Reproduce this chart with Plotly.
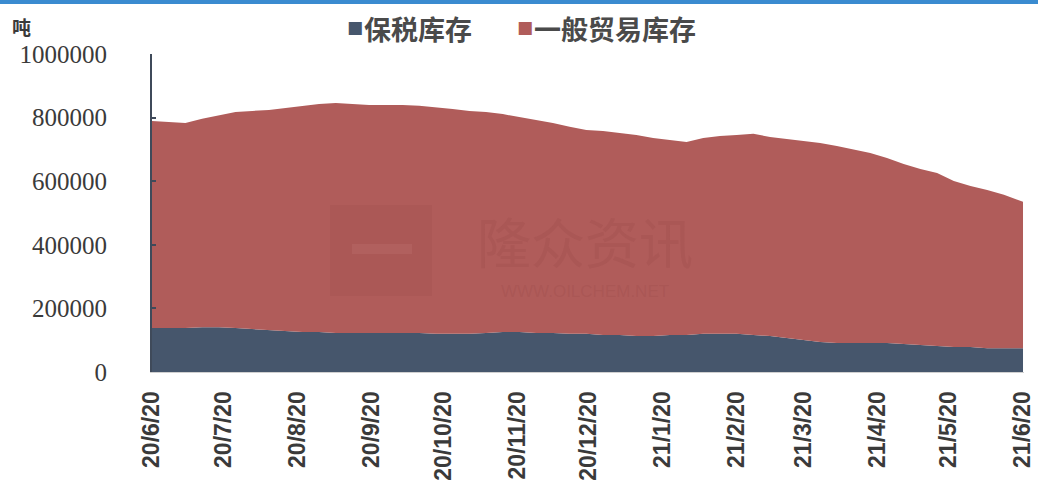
import pandas as pd
import plotly.graph_objects as go

# Weekly stock levels, tonnes
dates = list(pd.date_range("2020-06-20", periods=52, freq="7D").strftime("%Y-%m-%d")) + ["2021-06-20"]

bonded = [138000, 138000, 138000, 141000, 141000, 138000, 135000, 132000, 129000, 126000,
          126000, 123000, 123000, 123000, 123000, 123000, 123000, 120000, 120000, 120000,
          123000, 126000, 126000, 123000, 123000, 120000, 120000, 116000, 116000, 113000,
          113000, 116000, 116000, 120000, 120000, 120000, 116000, 113000, 107000, 101000,
          94000, 91000, 91000, 91000, 91000, 88000, 85000, 82000, 79000, 79000,
          75000, 75000, 75000]

general = [651000, 648000, 645000, 655000, 667000, 680000, 686000, 692000, 701000, 711000,
           717000, 723000, 720000, 717000, 717000, 717000, 714000, 713000, 707000, 701000,
           695000, 685000, 676000, 670000, 660000, 651000, 641000, 642000, 636000, 632000,
           623000, 614000, 607000, 616000, 622000, 625000, 633000, 626000, 626000, 625000,
           626000, 620000, 610000, 598000, 582000, 566000, 553000, 544000, 522000, 506000,
           497000, 482000, 460000]

tick_dates = ["2020-06-20", "2020-07-20", "2020-08-20", "2020-09-20", "2020-10-20",
              "2020-11-20", "2020-12-20", "2021-01-20", "2021-02-20", "2021-03-20",
              "2021-04-20", "2021-05-20", "2021-06-20"]
tick_labels = ["20/6/20", "20/7/20", "20/8/20", "20/9/20", "20/10/20", "20/11/20",
               "20/12/20", "21/1/20", "21/2/20", "21/3/20", "21/4/20", "21/5/20", "21/6/20"]

y_ticks = [0, 200000, 400000, 600000, 800000, 1000000]

series_names = ["保税库存", "一般贸易库存"]
NAVY = "#46566c"
RED = "#b05c5a"
TEXT = "#3a3a3a"

L, R, T, B = 152, 14, 54, 130
PW = 1038 - L - R
PH = 502 - T - B


def px_x(x):
    return (x - L) / PW


def px_y(y):
    return (502 - B - y) / PH


fig = go.Figure()
fig.add_trace(go.Scatter(x=dates, y=bonded, name=series_names[0], stackgroup="s",
                         mode="lines", line=dict(width=0, color=NAVY), fillcolor=NAVY))
fig.add_trace(go.Scatter(x=dates, y=general, name=series_names[1], stackgroup="s",
                         mode="lines", line=dict(width=0, color=RED), fillcolor=RED))

fig.update_layout(
    width=1038, height=502,
    margin=dict(l=L, r=R, t=T, b=B),
    paper_bgcolor="white", plot_bgcolor="white",
    showlegend=False,
)

fig.update_xaxes(
    type="date", range=["2020-06-20", "2021-06-20 10:00"],
    tickvals=tick_dates, ticktext=tick_labels, tickangle=-90,
    tickfont=dict(family="Liberation Sans", size=23, color=TEXT, weight="bold"),
    showgrid=False, zeroline=False, showline=True, linecolor="#d0d0d0", linewidth=1,
    ticks="", ticklabelstandoff=9, ticklabeloverflow="allow", automargin=False,
)
fig.update_yaxes(
    range=[0, 1000000], tickvals=y_ticks, ticktext=[str(v) for v in y_ticks],
    tickfont=dict(family="Liberation Serif", size=25, color=TEXT),
    showgrid=False, zeroline=False, showline=True, linecolor="#3f4a5a", linewidth=2,
    ticks="inside", ticklen=4, tickcolor="#3f4a5a", tickwidth=2,
    ticklabelstandoff=38, automargin=False,
)

# top accent bar
fig.add_shape(type="rect", xref="paper", yref="paper",
              x0=-0.3, x1=1.1, y0=px_y(4), y1=px_y(-2),
              fillcolor="#3a8bd0", line=dict(width=0), layer="above")

# watermark
fig.add_shape(type="rect", xref="paper", yref="paper",
              x0=px_x(330), x1=px_x(432), y0=px_y(296), y1=px_y(205),
              fillcolor="rgba(150,70,70,0.16)", line=dict(width=0), layer="above")
fig.add_shape(type="rect", xref="paper", yref="paper",
              x0=px_x(352), x1=px_x(412), y0=px_y(254), y1=px_y(244),
              fillcolor="rgba(220,150,150,0.14)", line=dict(width=0), layer="above")
fig.add_annotation(text="隆众资讯", xref="paper", yref="paper",
                   x=px_x(585), y=px_y(240), yanchor="middle", showarrow=False,
                   font=dict(family="Noto Sans CJK SC", size=54, color="rgba(150,70,70,0.24)"))
fig.add_annotation(text="WWW.OILCHEM.NET", xref="paper", yref="paper",
                   x=px_x(585), y=px_y(291), yanchor="middle", showarrow=False,
                   font=dict(family="Liberation Sans", size=17, color="rgba(150,70,70,0.24)"))

# unit label
fig.add_annotation(text="吨", xref="paper", yref="paper",
                   x=px_x(10), y=px_y(27), xanchor="left", yanchor="middle", showarrow=False,
                   font=dict(family="Noto Sans CJK SC", size=19, color=TEXT, weight="bold"))

# legend
legend_items = [(345, NAVY, series_names[0]), (515, RED, series_names[1])]
for x_px, color, label in legend_items:
    fig.add_annotation(text="■", xref="paper", yref="paper",
                       x=px_x(x_px), y=px_y(27), xanchor="left", yanchor="middle",
                       showarrow=False,
                       font=dict(family="DejaVu Sans", size=17, color=color))
    fig.add_annotation(text=label, xref="paper", yref="paper",
                       x=px_x(x_px + 17), y=px_y(28), xanchor="left", yanchor="middle",
                       showarrow=False,
                       font=dict(family="Noto Sans CJK SC", size=27, color="#4a4a4a",
                                 weight="bold"))

fig.write_html("out.html")
